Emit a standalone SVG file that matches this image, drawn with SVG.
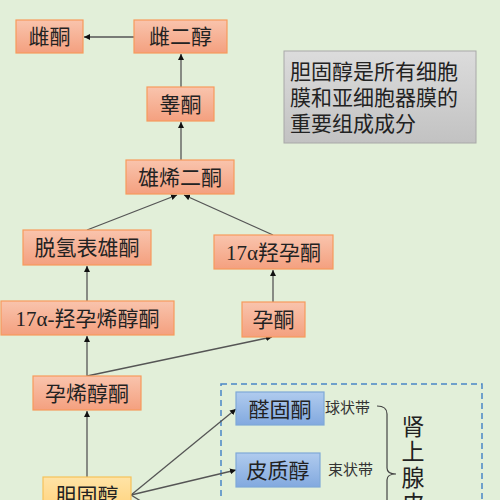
<svg xmlns="http://www.w3.org/2000/svg" width="500" height="500" viewBox="0 0 500 500">
<defs>
<linearGradient id="gO" x1="0" y1="0" x2="0" y2="1"><stop offset="0" stop-color="#f9c4ad"/><stop offset="1" stop-color="#f4a07f"/></linearGradient>
<linearGradient id="gB" x1="0" y1="0" x2="0" y2="1"><stop offset="0" stop-color="#b0cbee"/><stop offset="1" stop-color="#82a9df"/></linearGradient>
<linearGradient id="gY" x1="0" y1="0" x2="0" y2="1"><stop offset="0" stop-color="#ffe3a6"/><stop offset="1" stop-color="#ffd27a"/></linearGradient>
<linearGradient id="gG" x1="0" y1="0" x2="0" y2="1"><stop offset="0" stop-color="#dcdcdc"/><stop offset="1" stop-color="#c2c2c2"/></linearGradient>
<marker id="ar" viewBox="0 0 10 10" refX="10" refY="5" markerWidth="6" markerHeight="6" orient="auto" markerUnits="userSpaceOnUse"><path d="M0,0 L10,5 L0,10 z" fill="#111"/></marker>
</defs>
<style>
.o{fill:url(#gO);stroke:#f79a5c;stroke-width:1.2}
.b{fill:url(#gB);stroke:#7fa8d8;stroke-width:1.2}
.y{fill:url(#gY);stroke:#f5c25a;stroke-width:1.2}
.t{font-family:"Liberation Serif","Noto Sans CJK SC",serif;font-size:21px;fill:#222;text-anchor:middle}
.s{font-family:"Liberation Serif","Noto Sans CJK SC",serif;font-size:15px;fill:#333}
.c line{stroke:#555;stroke-width:1.3;marker-end:url(#ar)}
</style>
<rect width="500" height="500" fill="#e2efd9"/>
<g id="note">
<rect x="284" y="51" width="192" height="92" fill="url(#gG)" stroke="#a8a8a8" stroke-width="1"/>
<text class="t" x="290" y="79" style="text-anchor:start">胆固醇是所有细胞</text>
<text class="t" x="290" y="105" style="text-anchor:start">膜和亚细胞器膜的</text>
<text class="t" x="290" y="131" style="text-anchor:start">重要组成成分</text>
</g>
<g id="adrenal">
<rect x="221" y="384" width="261" height="140" fill="none" stroke="#4a86c6" stroke-width="1.5" stroke-dasharray="6,4"/>
<path d="M377,406 Q387,406 387,414 L387,468 Q387,474 396,474 Q387,474 387,480 L387,540" fill="none" stroke="#444" stroke-width="1.2"/>
<text class="s" x="325" y="413">球状带</text>
<text class="s" x="328" y="475">束状带</text>
<g style="font-family:'Liberation Serif','Noto Sans CJK SC',serif;font-size:23px;fill:#222;text-anchor:middle">
<text x="413" y="435">肾</text><text x="413" y="460">上</text><text x="413" y="486">腺</text><text x="413" y="512">皮</text>
</g>
</g>
<g class="c" id="connectors">
<line x1="134" y1="37" x2="84" y2="37"/>
<line x1="181" y1="87" x2="181" y2="54"/>
<line x1="181" y1="160" x2="181" y2="122"/>
<line x1="87" y1="230" x2="177" y2="195"/>
<line x1="273" y1="235" x2="184" y2="195"/>
<line x1="87" y1="301" x2="87" y2="266"/>
<line x1="273" y1="302" x2="273" y2="270"/>
<line x1="87" y1="376" x2="87" y2="336"/>
<line x1="87" y1="376" x2="272" y2="337"/>
<line x1="87" y1="477" x2="87" y2="411"/>
<line x1="131" y1="495" x2="236" y2="409"/>
<line x1="131" y1="495" x2="236" y2="470"/>
<line x1="131" y1="495" x2="236" y2="560"/>
</g>
<g id="n-estrone"><rect class="o" x="16" y="20" width="67" height="33"/><text class="t" x="49.5" y="44">雌酮</text></g>
<g id="n-estradiol"><rect class="o" x="134" y="20" width="93" height="33"/><text class="t" x="180.5" y="44">雌二醇</text></g>
<g id="n-testosterone"><rect class="o" x="147" y="87" width="67" height="34"/><text class="t" x="180.5" y="112">睾酮</text></g>
<g id="n-androstenedione"><rect class="o" x="126" y="160" width="108" height="34"/><text class="t" x="180" y="185">雄烯二酮</text></g>
<g id="n-dhea"><rect class="o" x="23" y="230" width="128" height="35"/><text class="t" x="87" y="255">脱氢表雄酮</text></g>
<g id="n-17ohp"><rect class="o" x="214" y="235" width="119" height="34"/><text class="t" x="273.5" y="260">17α羟孕酮</text></g>
<g id="n-17ohpreg"><rect class="o" x="1" y="301" width="173" height="34"/><text class="t" x="87.5" y="326">17α-羟孕烯醇酮</text></g>
<g id="n-progesterone"><rect class="o" x="242" y="302" width="63" height="35"/><text class="t" x="273.5" y="327">孕酮</text></g>
<g id="n-pregnenolone"><rect class="o" x="33" y="376" width="108" height="34"/><text class="t" x="87" y="401">孕烯醇酮</text></g>
<g id="n-cholesterol"><rect class="y" x="43" y="477" width="88" height="35"/><text class="t" x="87" y="503">胆固醇</text></g>
<g id="n-aldosterone"><rect class="b" x="236" y="392" width="88" height="33"/><text class="t" x="280" y="417">醛固酮</text></g>
<g id="n-cortisol"><rect class="b" x="236" y="453" width="84" height="34"/><text class="t" x="278" y="478">皮质醇</text></g>
</svg>
